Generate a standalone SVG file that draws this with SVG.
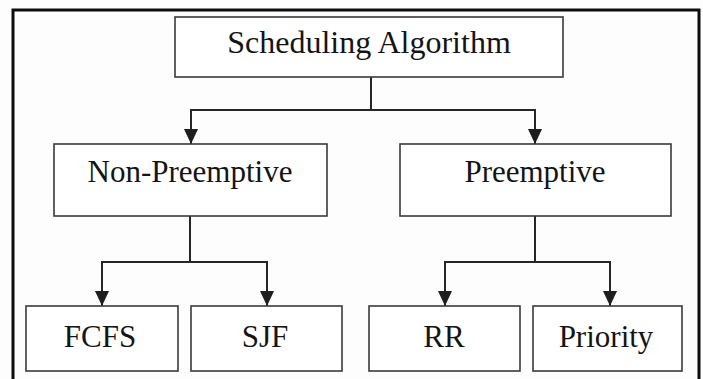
<svg xmlns="http://www.w3.org/2000/svg" width="703" height="379" viewBox="0 0 703 379">
  <style>
    .box { fill: #ffffff; stroke: #3a3a3a; stroke-width: 1.6; }
    .lbl { font-family: "Liberation Serif", "Times New Roman", serif; fill: #141414; text-anchor: middle; }
    .conn { fill: none; stroke: #262626; stroke-width: 2; }
  </style>
  <defs>
    <marker id="arr" markerUnits="userSpaceOnUse" markerWidth="16" markerHeight="16" viewBox="0 0 16 16" refX="15" refY="8" orient="auto">
      <path d="M0,1 L15,8 L0,15 Z" fill="#1e1e1e"/>
    </marker>
  </defs>
  <rect x="0" y="0" width="703" height="379" fill="#fdfdfd"/>
  <rect id="frame" x="13" y="10" width="686" height="380" fill="none" stroke="#0d0d0d" stroke-width="3"/>

  <g id="connectors">
    <path class="conn" d="M371,77 V110 H191 V144" marker-end="url(#arr)"/>
    <path class="conn" d="M371,110 H535 V144" marker-end="url(#arr)"/>
    <path class="conn" d="M190,216 V262 H102 V306" marker-end="url(#arr)"/>
    <path class="conn" d="M190,262 H267 V306" marker-end="url(#arr)"/>
    <path class="conn" d="M535,216 V262 H445 V306" marker-end="url(#arr)"/>
    <path class="conn" d="M535,262 H610 V306" marker-end="url(#arr)"/>
  </g>

  <g id="scheduling">
    <rect class="box" x="175" y="17" width="388" height="60"/>
    <text class="lbl" x="369" y="53" font-size="32">Scheduling Algorithm</text>
  </g>
  <g id="nonpreemptive">
    <rect class="box" x="54" y="144" width="273" height="72"/>
    <text class="lbl" x="190" y="182" font-size="31">Non-Preemptive</text>
  </g>
  <g id="preemptive">
    <rect class="box" x="400" y="144" width="271" height="72"/>
    <text class="lbl" x="535" y="182" font-size="31">Preemptive</text>
  </g>
  <g id="fcfs">
    <rect class="box" x="26" y="306" width="152" height="65"/>
    <text class="lbl" x="100" y="347" font-size="31">FCFS</text>
  </g>
  <g id="sjf">
    <rect class="box" x="191" y="306" width="151" height="65"/>
    <text class="lbl" x="265" y="347" font-size="31">SJF</text>
  </g>
  <g id="rr">
    <rect class="box" x="369" y="306" width="151" height="65"/>
    <text class="lbl" x="444" y="347" font-size="31">RR</text>
  </g>
  <g id="priority">
    <rect class="box" x="533" y="306" width="149" height="65"/>
    <text class="lbl" x="606" y="347" font-size="31">Priority</text>
  </g>
</svg>
